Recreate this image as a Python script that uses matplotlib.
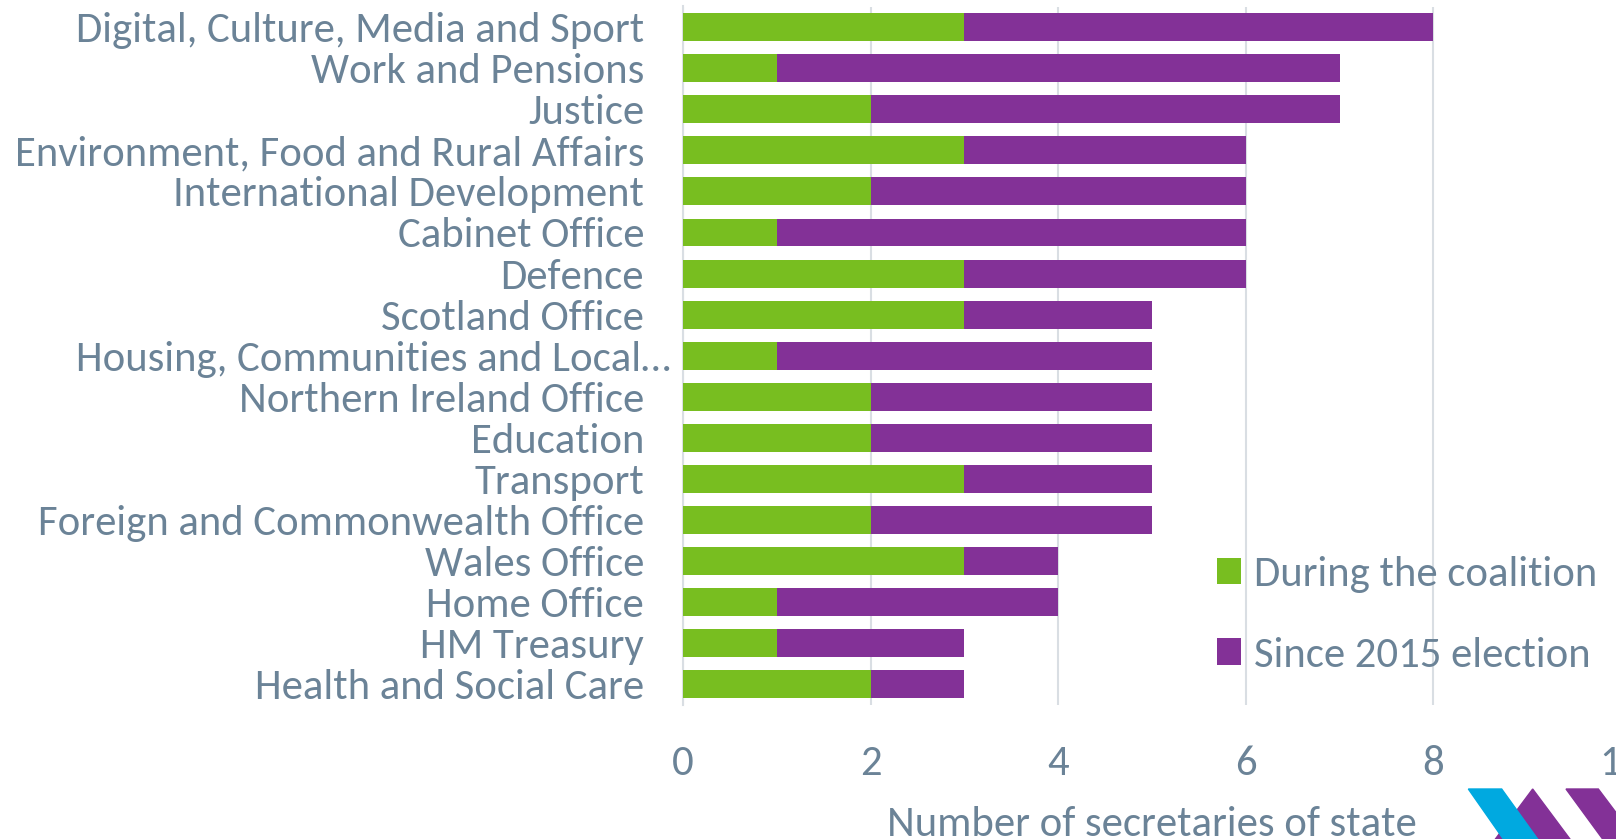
import matplotlib
matplotlib.use("Agg")
import matplotlib.pyplot as plt
import matplotlib.transforms as mtransforms
from matplotlib.patches import Polygon

departments = [
    "Digital, Culture, Media and Sport",
    "Work and Pensions",
    "Justice",
    "Environment, Food and Rural Affairs",
    "International Development",
    "Cabinet Office",
    "Defence",
    "Scotland Office",
    "Housing, Communities and Local\u2026",
    "Northern Ireland Office",
    "Education",
    "Transport",
    "Foreign and Commonwealth Office",
    "Wales Office",
    "Home Office",
    "HM Treasury",
    "Health and Social Care",
]
coalition = [3, 1, 2, 3, 2, 1, 3, 3, 1, 2, 2, 3, 2, 3, 1, 1, 2]
since_2015 = [5, 6, 5, 3, 4, 5, 3, 2, 4, 3, 3, 2, 3, 1, 3, 2, 1]
x_ticks = [0, 2, 4, 6, 8, 10]

GREEN = "#78BE20"
PURPLE = "#833197"
TEXT = "#6B8397"
GRID = "#D9DEE3"
FS = 30.8

plt.rcParams["font.family"] = ["Carlito", "DejaVu Sans"]

W, H = 1616, 839
fig = plt.figure(figsize=(W / 100, H / 100), dpi=100)
ax = fig.add_axes([683 / W, 1 - 705 / H, (1621 - 683) / W, (705 - 6.5) / H])

y = list(range(len(departments)))
ax.barh(y, coalition, height=0.68, color=GREEN, label="During the coalition", zorder=3)
ax.barh(y, since_2015, left=coalition, height=0.68, color=PURPLE,
        label="Since 2015 election", zorder=3)

ax.set_ylim(len(departments) - 0.5, -0.5)
ax.set_xlim(0, 10)
ax.set_xticks(x_ticks)
ax.set_yticks(y)
ax.set_yticklabels(departments)
ax.tick_params(axis="y", length=0, pad=28, labelsize=FS, labelcolor=TEXT)
ax.tick_params(axis="x", length=0, pad=29, labelsize=FS, labelcolor=TEXT)
ax.xaxis.grid(True, color=GRID, linewidth=1.5, zorder=0)
for side in ["top", "right", "bottom"]:
    ax.spines[side].set_visible(False)
ax.spines["left"].set_color(GRID)
ax.spines["left"].set_linewidth(1.5)
ax.set_xlabel("Number of secretaries of state", fontsize=FS, color=TEXT, labelpad=17)

# the truncated label overflows to the right in the original
lab = ax.get_yticklabels()[8]
lab.set_transform(lab.get_transform() + mtransforms.ScaledTranslation(27 / 100, 0, fig.dpi_scale_trans))

ax.legend(loc="upper left", bbox_to_anchor=(1217 / W, 1 - 556 / H),
          bbox_transform=fig.transFigure, frameon=False, fontsize=FS,
          labelcolor=TEXT, handlelength=0.57, handleheight=0.57,
          handletextpad=0.3, labelspacing=1.02, borderpad=0, borderaxespad=0)


# logo in the bottom right corner
def fig_poly(pts, color):
    xy = [((1450 + px / 3) / W, 1 - (780 + py / 3) / H) for px, py in pts]
    fig.patches.append(Polygon(xy, closed=True, color=color, transform=fig.transFigure, figure=fig))


fig_poly([(248, 27), (362, 180), (134, 180)], PURPLE)
fig_poly([(55, 27), (155, 27), (265, 180), (162, 180)], "#00A9E0")
fig_poly([(348, 27), (445, 27), (560, 180), (460, 180)], PURPLE)

fig.savefig("out.png", dpi=100)
